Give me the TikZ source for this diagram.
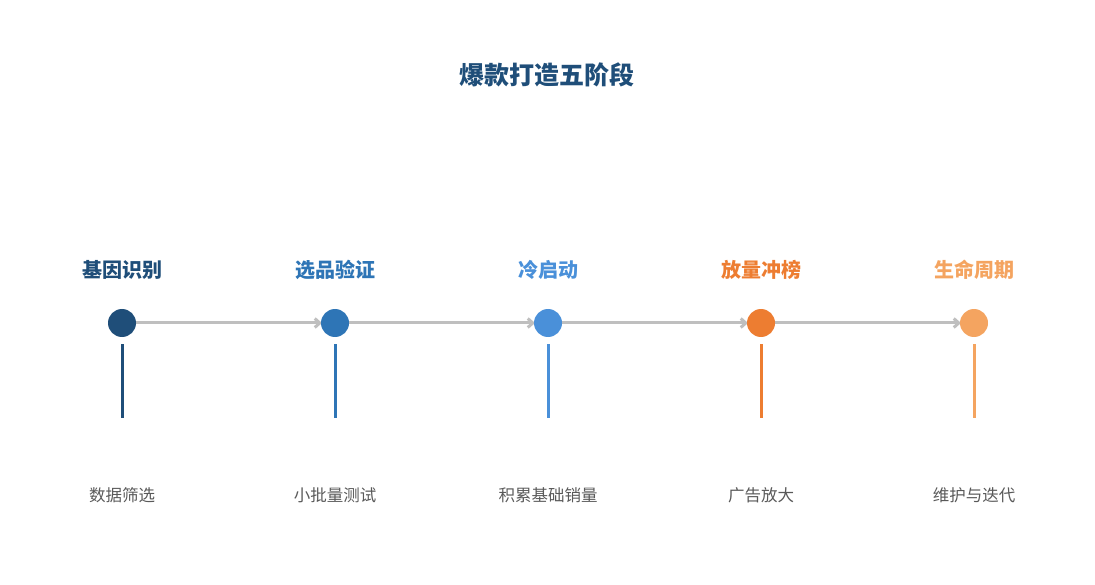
\documentclass[tikz,border=0pt]{standalone}
\usepackage{fontspec}
\setmainfont{Noto Sans CJK SC}
\usetikzlibrary{arrows.meta}
\definecolor{c1}{HTML}{1F4E79}\definecolor{c2}{HTML}{2E75B6}\definecolor{c3}{HTML}{4A90D9}
\definecolor{c4}{HTML}{ED7D31}\definecolor{c5}{HTML}{F4A460}\definecolor{ln}{HTML}{BFBFBF}
\definecolor{tx}{HTML}{595959}
\begin{document}
\begin{tikzpicture}[x=1pt,y=-1pt,
 dot/.style={circle,fill=#1,minimum size=28pt,inner sep=0pt},
 lab/.style={text=#1,font=\fontsize{20}{24}\selectfont\bfseries},
 sub/.style={text=tx,font=\fontsize{16.5}{20}\selectfont},
 conn/.style={ln,line width=3pt,-{Straight Barb[length=5pt,width=9pt]}}]
\useasboundingbox (0,0) rectangle (1095,585);
\node[text=c1,font=\fontsize{25}{30}\selectfont\bfseries] (t) at (547,75) {爆款打造五阶段};
\foreach \i/\x/\a/\b in {1/122/基因识别/数据筛选,2/335/选品验证/小批量测试,3/548/冷启动/积累基础销量,4/761/放量冲榜/广告放大,5/974/生命周期/维护与迭代}{
 \node[lab=c\i] (l\i) at (\x,270) {\a};
 \node[sub] (s\i) at (\x,495) {\b};
 \coordinate (a\i) at (\x,344); \coordinate (b\i) at (\x,418);
 \draw[c\i,line width=3pt] (a\i)--(b\i);
}
\foreach \i/\x in {1/122,2/335,3/548,4/761,5/974} \coordinate (p\i) at (\x,323);
\draw[conn] (p1)--([xshift=-13pt]p2);
\draw[conn] (p2)--([xshift=-13pt]p3);
\draw[conn] (p3)--([xshift=-13pt]p4);
\draw[conn] (p4)--([xshift=-13pt]p5);
\foreach \i/\x in {1/122,2/335,3/548,4/761,5/974} \node[dot=c\i] (n\i) at (p\i) {};
\end{tikzpicture}
\end{document}
